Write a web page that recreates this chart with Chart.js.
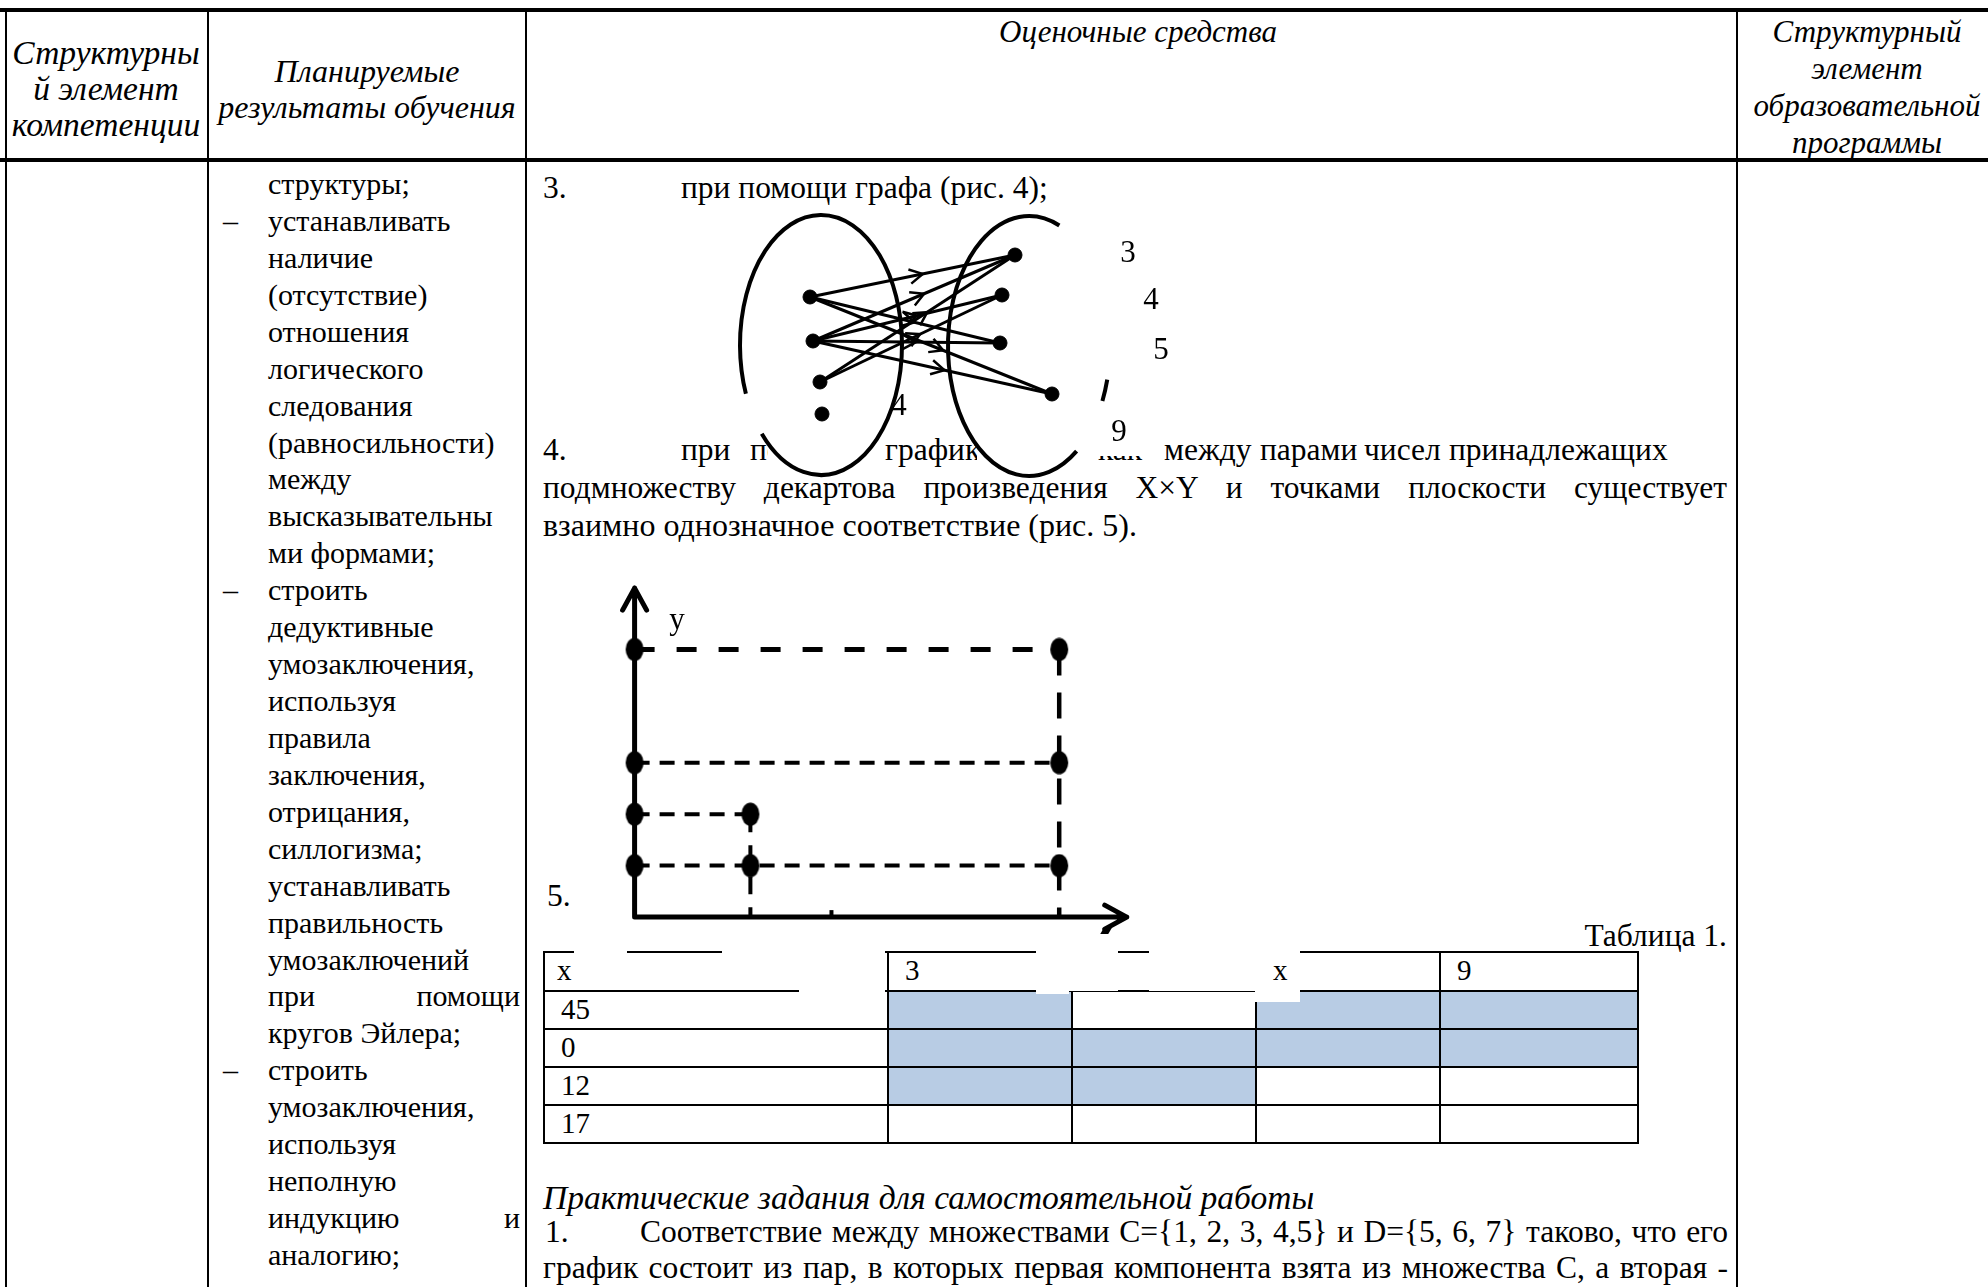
<!DOCTYPE html>
<html>
<head>
<meta charset="utf-8">
<script src="https://cdn.jsdelivr.net/npm/chart.js@4"></script>
<style>
  body { margin: 0; background: #fff; }
  #page { position: relative; width: 1988px; height: 1287px; overflow: hidden; background: #fff;
          font-family: "Liberation Serif", "Times New Roman", serif; color: #000; font-size: 31.5px; }
  .t { position: absolute; line-height: 40px; height: 40px; white-space: nowrap; z-index: 1; }
  .just { white-space: normal; text-align: justify; text-align-last: justify; overflow: visible; }
  .c { text-align: center; }
  .ln { position: absolute; background: #000; z-index: 1; }
  .wh { position: absolute; background: #fff; z-index: 2; }
  .top { z-index: 3; }
  .fig { position: absolute; z-index: 10; }
</style>
</head>
<body>
<div id="page"></div>
<script>
// рис. 4 — граф соответствия (узлы, подписи, дуги)
const leftX = [9.0, 9.3, 10.0, 10.2];
const leftY = [9.7, 14.1, 18.2, 21.4];
const rightX = [29.5, 28.2, 28.0, 33.2];
const rightY = [5.5, 9.5, 14.3, 19.4];
const rightLabels = ['3', '4', '5', '9'];
const rightLabelX = [40.8, 43.1, 44.1, 39.9];
const rightLabelY = [5.4, 10.1, 15.1, 23.3];
const leftLabels = ['4'];
const leftLabelX = [17.9];
const leftLabelY = [20.7];
const edges = [[0, 0], [0, 2], [0, 3], [1, 0], [1, 1], [1, 2], [1, 3], [2, 0], [2, 1]];
const ovalCX = [10.1, 30.9];
const ovalCY = [14.5, 14.6];
const ovalRX = [8.1, 8.1];
const ovalRY = [13.0, 13.0];

// рис. 5 — график соответствия
const plotX = [3, 3, 11, 11, 11];
const plotY = [1, 2, 1, 3, 5.2];
const axisEndX = 12.75;
const axisTopY = 6.39;

// Таблица 1
const tableHead = ['x', '3', '', 'x', '9'];
const tableRows = ['45', '0', '12', '17'];
const tableShade = [
  [0, 1, 0, 1, 1],
  [0, 1, 1, 1, 1],
  [0, 1, 1, 0, 0],
  [0, 0, 0, 0, 0]
];

const page = document.getElementById('page');

function box(cls, x, y, w, h) {
  const d = document.createElement('div');
  d.className = cls;
  d.style.left = x + 'px'; d.style.top = y + 'px';
  d.style.width = w + 'px'; d.style.height = h + 'px';
  page.appendChild(d);
  return d;
}

function put(txt, x, y, o = {}) {
  const d = document.createElement('div');
  d.className = 't';
  d.textContent = txt;
  d.style.top = (y - 20) + 'px';
  if (o.w) { d.classList.add('just'); d.style.width = o.w + 'px'; }
  if (o.center) { d.classList.add('c'); d.style.width = '600px'; x = x - 300; }
  if (o.right) { d.style.width = '400px'; d.style.textAlign = 'right'; x = x - 400; }
  d.style.left = x + 'px';
  if (o.it) d.style.fontStyle = 'italic';
  if (o.fs) d.style.fontSize = o.fs + 'px';
  if (o.top) d.classList.add('top');
  page.appendChild(d);
  return d;
}

// внешняя таблица
box('ln', 0, 8, 1988, 4);
box('ln', 0, 158, 1988, 4);
[5, 207, 525, 1736].forEach(x => box('ln', x, 8, 2, 1287));

// шапка
['Структурны', 'й элемент', 'компетенции'].forEach((s, i) => put(s, 106, 53 + i * 36, { center: 1, it: 1, fs: 33.5 }));
['Планируемые', 'результаты обучения'].forEach((s, i) => put(s, 367, 71 + i * 36, { center: 1, it: 1, fs: 32 }));
put('Оценочные средства', 1138, 32, { center: 1, it: 1, fs: 31 });
['Структурный', 'элемент', 'образовательной', 'программы'].forEach((s, i) => put(s, 1867, 32 + i * 37, { center: 1, it: 1, fs: 31 }));

// второй столбец
const col2 = [
  ['структуры;'], ['устанавливать', 1], ['наличие'], ['(отсутствие)'], ['отношения'],
  ['логического'], ['следования'], ['(равносильности)'], ['между'], ['высказывательны'],
  ['ми формами;'], ['строить', 1], ['дедуктивные'], ['умозаключения,'], ['используя'],
  ['правила'], ['заключения,'], ['отрицания,'], ['силлогизма;'], ['устанавливать'],
  ['правильность'], ['умозаключений'], ['при помощи', 0, 1], ['кругов Эйлера;'], ['строить', 1],
  ['умозаключения,'], ['используя'], ['неполную'], ['индукцию и', 0, 1], ['аналогию;']
];
col2.forEach(([s, dash, just], i) => {
  const y = 184 + i * 36.93;
  if (dash) put('–', 223, y, { fs: 30 });
  put(s, 268, y, just ? { w: 252, fs: 30 } : { fs: 30 });
});

// третий столбец
put('3.', 543, 188);
put('при помощи графа (рис. 4);', 681, 188);
put('4.', 543, 450);
[['при', 681], ['помощи', 750], ['графика,', 885], ['как', 1098], ['между', 1164],
 ['парами', 1260], ['чисел', 1364], ['принадлежащих', 1449]].forEach(([s, x]) => put(s, x, 450));
box('wh', 768, 428, 114, 44);
box('wh', 977, 428, 121, 44);
box('wh', 1098, 428, 50, 28);
put('подмножеству декартова произведения X×Y и точками плоскости существует', 543, 488, { w: 1184 });
put('взаимно однозначное соответствие (рис. 5).', 543, 525, { fs: 32 });
put('5.', 547, 896);
put('Таблица 1.', 1727, 936, { right: 1 });
put('Практические задания для самостоятельной работы', 543, 1198, { it: 1, fs: 33.5 });
put('1.', 545, 1232);
put('Соответствие между множествами C={1, 2, 3, 4,5} и D={5, 6, 7} таково, что его', 640, 1232, { w: 1088 });
put('график состоит из пар, в которых первая компонента взята из множества С, а вторая -', 543, 1268, { w: 1185 });

// Таблица 1
const colEdges = [543, 887, 1071, 1255, 1439, 1637];
const rowEdges = [951, 990, 1028, 1066, 1104, 1142];
tableShade.forEach((row, r) => row.forEach((v, c) => {
  if (v) {
    const s = box('ln', colEdges[c], rowEdges[r + 1], colEdges[c + 1] - colEdges[c], rowEdges[r + 2] - rowEdges[r + 1]);
    s.style.background = '#b8cce4';
  }
}));
rowEdges.forEach(y => box('ln', colEdges[0], y, colEdges[5] - colEdges[0] + 2, 2));
colEdges.forEach(x => box('ln', x, rowEdges[0], 2, rowEdges[5] - rowEdges[0] + 2));
// затёртые участки шапки таблицы
box('wh', 574, 946, 53, 10);
box('wh', 722, 946, 163, 42);
box('wh', 799, 986, 86, 8);
box('wh', 1036, 946, 264, 43);
box('wh', 1036, 986, 264, 5);
box('wh', 1036, 988, 33, 6);
box('wh', 1255, 988, 45, 14);
const seg1 = box('ln', 1118, 951, 31, 2); seg1.style.zIndex = 2;
const seg2 = box('ln', 1118, 990, 31, 2); seg2.style.zIndex = 2;
const tick = box('ln', 1102, 928, 8, 6); tick.style.zIndex = 2; tick.style.transform = 'skewX(-30deg)';
tableHead.forEach((s, c) => { if (s) put(s, colEdges[c] + (c === 0 ? 14 : 18), 970, { top: 1, fs: 29 }); });
tableRows.forEach((s, r) => put(s, colEdges[0] + 18, (rowEdges[r + 1] + rowEdges[r + 2]) / 2, { top: 1, fs: 29 }));

// холсты рисунков поверх текста
function makeCanvas(id, x, y, w, h) {
  const c = document.createElement('canvas');
  c.id = id; c.width = w; c.height = h; c.className = 'fig';
  c.style.left = x + 'px'; c.style.top = y + 'px';
  page.appendChild(c);
  return c;
}
const graphCanvas = makeCanvas('graph', 720, 200, 480, 300);
const plotCanvas = makeCanvas('plot', 596, 567, 579, 381);

// ---------- рис. 4 ----------
const graphDecor = {
  id: 'graphDecor',
  afterDatasetsDraw(chart) {
    const { ctx, scales: { x, y } } = chart;
    ctx.save();
    ctx.strokeStyle = '#000';
    ctx.fillStyle = '#000';
    // овалы (видимые дуги)
    const arcs = [[[158, 497]], [[54, 292], [15, 25]]];
    ctx.lineWidth = 4;
    ovalCX.forEach((cx, i) => {
      const px = x.getPixelForValue(cx), py = y.getPixelForValue(ovalCY[i]);
      const rx = x.getPixelForValue(cx + ovalRX[i]) - px;
      const ry = y.getPixelForValue(ovalCY[i] + ovalRY[i]) - py;
      arcs[i].forEach(([a0, a1]) => {
        ctx.beginPath();
        ctx.ellipse(px, py, rx, ry, 0, a0 * Math.PI / 180, a1 * Math.PI / 180);
        ctx.stroke();
      });
    });
    // стрелки
    ctx.lineWidth = 2.5;
    edges.forEach(([l, r]) => {
      const x0 = x.getPixelForValue(leftX[l]), y0 = y.getPixelForValue(leftY[l]);
      const x1 = x.getPixelForValue(rightX[r]), y1 = y.getPixelForValue(rightY[r]);
      const f = 0.55;
      const tx = x0 + (x1 - x0) * f, ty = y0 + (y1 - y0) * f;
      const ang = Math.atan2(y1 - y0, x1 - x0);
      ctx.beginPath();
      ctx.moveTo(tx - 15 * Math.cos(ang - 0.5), ty - 15 * Math.sin(ang - 0.5));
      ctx.lineTo(tx, ty);
      ctx.lineTo(tx - 15 * Math.cos(ang + 0.5), ty - 15 * Math.sin(ang + 0.5));
      ctx.stroke();
    });
    // подписи
    ctx.font = '31px "Liberation Serif"';
    ctx.textAlign = 'center';
    ctx.textBaseline = 'middle';
    rightLabels.forEach((s, i) => ctx.fillText(s, x.getPixelForValue(rightLabelX[i]), y.getPixelForValue(rightLabelY[i])));
    leftLabels.forEach((s, i) => ctx.fillText(s, x.getPixelForValue(leftLabelX[i]), y.getPixelForValue(leftLabelY[i])));
    ctx.restore();
  }
};

const edgeSets = edges.map(([l, r]) => ({
  data: [{ x: leftX[l], y: leftY[l] }, { x: rightX[r], y: rightY[r] }],
  showLine: true,
  borderColor: '#000',
  borderWidth: 3,
  pointRadius: 0,
  clip: false
}));

const nodeSet = {
  data: leftX.map((v, i) => ({ x: v, y: leftY[i] })).concat(rightX.map((v, i) => ({ x: v, y: rightY[i] }))),
  pointRadius: 7,
  backgroundColor: '#000',
  borderColor: '#000',
  clip: false
};

new Chart(graphCanvas, {
  type: 'scatter',
  data: { datasets: [...edgeSets, nodeSet] },
  options: {
    responsive: false,
    animation: false,
    events: [],
    layout: { padding: 0, autoPadding: false },
    plugins: { legend: { display: false }, tooltip: { enabled: false } },
    scales: {
      x: { type: 'linear', min: 0, max: 48, display: false },
      y: { type: 'linear', min: 0, max: 30, reverse: true, display: false }
    }
  },
  plugins: [graphDecor]
});

// ---------- рис. 5 ----------
const dot = document.createElement('canvas');
dot.width = 20; dot.height = 24;
const dc = dot.getContext('2d');
dc.beginPath(); dc.ellipse(10, 12, 9, 11.5, 0, 0, Math.PI * 2); dc.fill();

const maxPX = Math.max(...plotX);
const maxPY = Math.max(...plotY);
const guides = [];
[...new Set(plotY)].forEach(v => {
  const xe = Math.max(...plotX.filter((_, i) => plotY[i] === v));
  guides.push({ data: [{ x: 0, y: v }, { x: xe, y: v }], w: v === maxPY ? 5 : 4, dash: v === maxPY ? [20, 22] : [15, 10] });
});
[...new Set(plotX)].forEach(v => {
  const ye = Math.max(...plotY.filter((_, i) => plotX[i] === v));
  guides.push({ data: [{ x: v, y: ye }, { x: v, y: 0 }], w: v === maxPX ? 4.5 : 4, dash: v === maxPX ? [26, 17] : [18, 13] });
});

const guideSets = guides.map(g => ({
  data: g.data,
  showLine: true,
  borderColor: '#000',
  borderWidth: g.w,
  borderDash: g.dash,
  pointRadius: 0,
  clip: false
}));

const pointSet = {
  data: [...new Set(plotY)].map(v => ({ x: 0, y: v })).concat(plotX.map((v, i) => ({ x: v, y: plotY[i] }))),
  pointStyle: dot,
  pointRadius: 10,
  clip: false
};

const plotAxes = {
  id: 'plotAxes',
  beforeDatasetsDraw(chart) {
    const { ctx, scales: { x, y } } = chart;
    const ox = x.getPixelForValue(0), oy = y.getPixelForValue(0);
    const tx = x.getPixelForValue(axisEndX), ty = y.getPixelForValue(axisTopY);
    ctx.save();
    ctx.strokeStyle = '#000';
    ctx.lineWidth = 5;
    ctx.lineCap = 'round';
    ctx.lineJoin = 'round';
    ctx.beginPath();
    ctx.moveTo(ox, oy); ctx.lineTo(ox, ty);
    ctx.moveTo(ox, oy); ctx.lineTo(tx, oy);
    ctx.moveTo(ox - 12, ty + 22); ctx.lineTo(ox, ty); ctx.lineTo(ox + 12, ty + 22);
    ctx.moveTo(tx - 22, oy - 12); ctx.lineTo(tx, oy); ctx.lineTo(tx - 22, oy + 12);
    ctx.stroke();
    // штрих на оси x
    const kx = x.getPixelForValue(5.1);
    ctx.lineWidth = 4;
    ctx.lineCap = 'butt';
    ctx.beginPath(); ctx.moveTo(kx, oy); ctx.lineTo(kx, oy - 7); ctx.stroke();
    ctx.fillStyle = '#000';
    ctx.font = '31px "Liberation Serif"';
    ctx.textAlign = 'center';
    ctx.textBaseline = 'middle';
    ctx.fillText('y', x.getPixelForValue(1.1), y.getPixelForValue(5.75));
    ctx.restore();
  }
};

new Chart(plotCanvas, {
  type: 'scatter',
  data: { datasets: [...guideSets, pointSet] },
  options: {
    responsive: false,
    animation: false,
    events: [],
    layout: { padding: 0, autoPadding: false },
    plugins: { legend: { display: false }, tooltip: { enabled: false } },
    scales: {
      x: { type: 'linear', min: -1, max: 14, display: false },
      y: { type: 'linear', min: -0.6, max: 6.8, display: false }
    }
  },
  plugins: [plotAxes]
});
</script>
</body>
</html>
